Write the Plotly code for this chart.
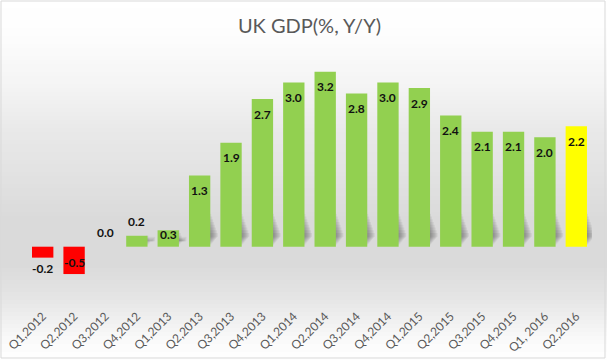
import plotly.graph_objects as go

categories = ["Q1,2012", "Q2,2012", "Q3,2012", "Q4,2012", "Q1,2013", "Q2,2013",
              "Q3,2013", "Q4,2013", "Q1,2014", "Q2,2014", "Q3,2014", "Q4,2014",
              "Q1,2015", "Q2,2015", "Q3,2015", "Q4,2015", "Q1, 2016", "Q2,2016"]
gdp_yoy = [-0.2, -0.5, 0.0, 0.2, 0.3, 1.3, 1.9, 2.7, 3.0, 3.2, 2.8, 3.0,
           2.9, 2.4, 2.1, 2.1, 2.0, 2.2]
title_text = "UK GDP(%, Y/Y)"

GREEN, RED, YELLOW = "#92d050", "#ff0000", "#ffff00"
colors = []
for i, v in enumerate(gdp_yoy):
    if i == len(gdp_yoy) - 1:
        colors.append(YELLOW)
    elif v < 0:
        colors.append(RED)
    else:
        colors.append(GREEN)

W, H = 607, 360
T, B, L, R = 60, 54, 27, 15
PX_PER_UNIT = 54.7
ZERO_PX = 246.7
y_max = (ZERO_PX - T) / PX_PER_UNIT
y_min = -((H - B) - ZERO_PX) / PX_PER_UNIT
plot_h = H - T - B
plot_w = W - L - R
BARGAP = 0.32
half = (1 - BARGAP) / 2

fig = go.Figure()
fig.add_trace(go.Bar(x=categories, y=gdp_yoy, marker=dict(color=colors, line=dict(width=0)),
                     hoverinfo="x+y"))

# background vertical gradient via bands (paper coords)
stops = [(0, 255), (35, 253), (80, 245), (130, 233), (180, 225), (220, 218),
         (265, 218), (295, 228), (320, 240), (340, 250), (360, 255)]

def gray_at(py):
    for (a, ga), (b, gb) in zip(stops[:-1], stops[1:]):
        if a <= py <= b:
            t = (py - a) / (b - a)
            return ga + (gb - ga) * t
    return 255

shapes = []
band = 4
for py in range(0, H, band):
    g = int(round(gray_at(py + band / 2)))
    y0 = ((H - B) - (py + band)) / plot_h
    y1 = ((H - B) - py) / plot_h
    shapes.append(dict(type="rect", xref="paper", yref="paper",
                       x0=-L / plot_w, x1=1 + R / plot_w, y0=y0, y1=y1,
                       fillcolor=f"rgb({g},{g},{g})", line=dict(width=0), layer="below"))

# soft bar shadows near the base (decorative, layered below bars)
for i, v in enumerate(gdp_yoy):
    if v <= 0.1:
        continue
    top = min(v, 0.6)
    for k in range(8):
        ext = 0.03 + 0.03 * k
        shapes.append(dict(type="rect", xref="x", yref="y",
                           x0=i + half - 0.05, x1=i + half + ext,
                           y0=0.04 + 0.02 * k, y1=max(top - 0.05 * k, 0.1),
                           fillcolor="rgba(60,60,60,0.07)", line=dict(width=0), layer="below"))

# outer border
shapes.append(dict(type="rect", xref="paper", yref="paper",
                   x0=(-L + 1) / plot_w, x1=1 + (R - 2) / plot_w,
                   y0=((H - B) - (H - 2)) / plot_h, y1=((H - B) - 1) / plot_h,
                   fillcolor="rgba(0,0,0,0)", line=dict(color="#d9d9d9", width=1), layer="above"))

# data labels
annotations = []
for i, (c, v) in enumerate(zip(categories, gdp_yoy)):
    if v < 0:
        shift = -11 if v > -0.3 else 12
    elif v < 0.25:
        shift = 14
    elif v < 0.5:
        shift = -4
    else:
        shift = -15
    annotations.append(dict(x=c, y=v, text=f"{v:.1f}", showarrow=False, yshift=shift,
                            xanchor="center", yanchor="middle",
                            font=dict(family="Lato", size=12, color="#111111", weight="bold")))

fig.update_layout(
    width=W, height=H,
    margin=dict(l=L, r=R, t=T, b=B, autoexpand=False),
    paper_bgcolor="white", plot_bgcolor="rgba(0,0,0,0)",
    title=dict(text=title_text, x=0.5, xref="paper", xanchor="center", y=1 - 26 / H, yanchor="middle",
               font=dict(family="Lato", size=20, color="#595959")),
    bargap=BARGAP,
    showlegend=False,
    xaxis=dict(type="category", range=[-0.5, len(categories) - 0.5], showgrid=False, zeroline=False,
               showline=False, ticks="", tickangle=-45, automargin=False,
               tickfont=dict(family="Lato", size=12, color="#595959")),
    yaxis=dict(range=[y_min, y_max], visible=False, showgrid=False, zeroline=False, automargin=False),
    shapes=shapes,
    annotations=annotations,
)

fig.write_html("out.html", config={"displayModeBar": False},
               post_script="document.body.style.margin='0';document.body.style.overflow='hidden';")
